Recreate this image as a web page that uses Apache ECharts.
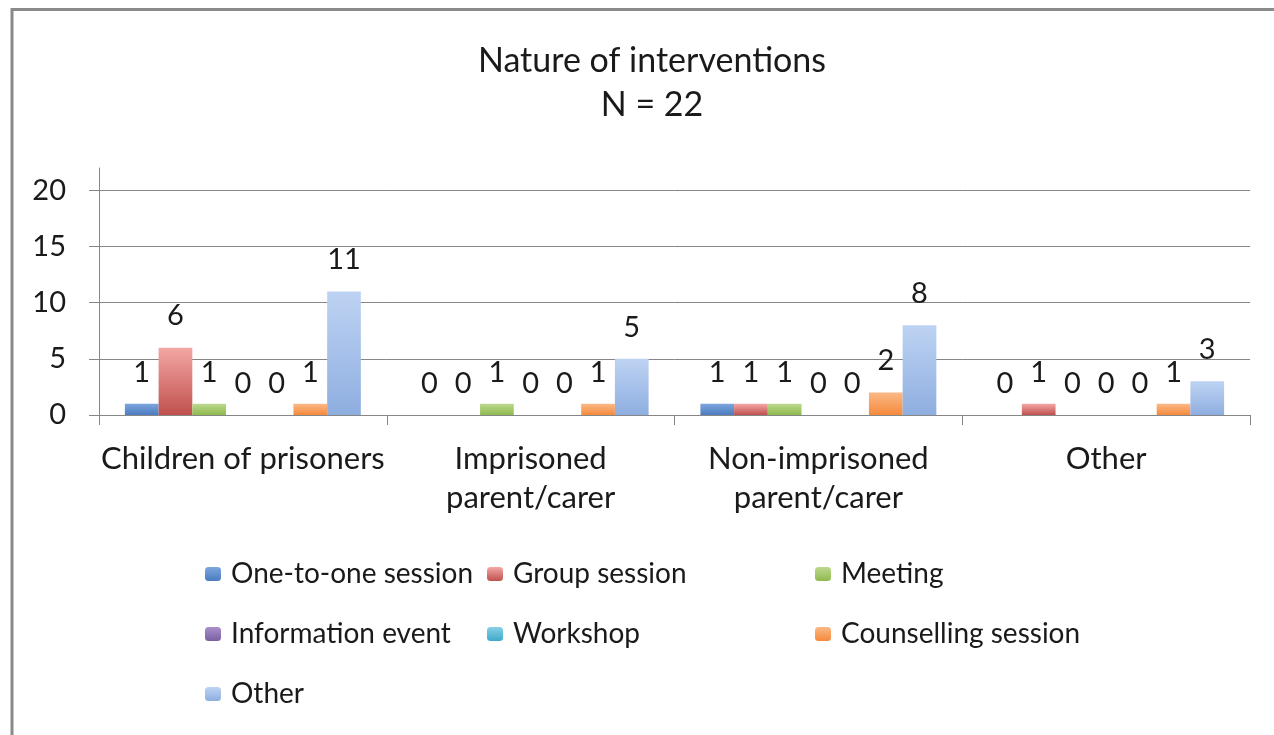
<!DOCTYPE html>
<html>
<head>
<meta charset="utf-8">
<script src="https://cdn.jsdelivr.net/npm/echarts@6/dist/echarts.min.js"></script>
<style>
html,body{margin:0;padding:0;background:#fff;}
#chart{width:1274px;height:735px;}
</style>
</head>
<body>
<div id="chart"></div>
<script>
var categories = ['Children of prisoners', 'Imprisoned\nparent/carer', 'Non-imprisoned\nparent/carer', 'Other'];
var seriesNames = ['One-to-one session', 'Group session', 'Meeting', 'Information event', 'Workshop', 'Counselling session', 'Other'];
var oneToOne = [1, 0, 1, 0];
var groupSession = [6, 0, 1, 1];
var meeting = [1, 1, 1, 0];
var infoEvent = [0, 0, 0, 0];
var workshop = [0, 0, 0, 0];
var counselling = [1, 1, 2, 1];
var otherVals = [11, 5, 8, 3];
var yTicks = [0, 5, 10, 15, 20];

var seriesValues = [oneToOne, groupSession, meeting, infoEvent, workshop, counselling, otherVals];
var baseColors = ['#4a7cc0', '#c0504d', '#8fba4e', '#7b5fa3', '#3eaacb', '#f58a3c', '#8eaee0'];
var topColors  = ['#7ea6dd', '#f3a7a5', '#bcd88e', '#a98fcb', '#86d0e6', '#fbb886', '#bed3f3'];
var FONT = 'Lato';

var chart = echarts.init(document.getElementById('chart'));
var series = seriesNames.map(function (name, i) {
  return {
    name: name,
    type: 'bar',
    data: seriesValues[i],
    barGap: '0%',
    barCategoryGap: '18%',
    itemStyle: {
      color: new echarts.graphic.LinearGradient(0, 0, 0, 1, [
        {offset: 0, color: topColors[i]},
        {offset: 1, color: baseColors[i]}
      ])
    },
    label: {
      show: true,
      position: 'top',
      distance: 17,
      fontFamily: FONT,
      fontSize: 29,
      color: '#1a1a1a'
    }
  };
});

var legendText = {fontFamily: FONT, fontSize: 28, color: '#1a1a1a', padding: [0, 0, 0, 5]};
function legendCol(left, names) {
  return {
    orient: 'vertical',
    left: left,
    top: 560,
    padding: 0,
    itemWidth: 16,
    itemHeight: 14,
    itemGap: 32,
    data: names,
    textStyle: legendText,
    selectedMode: false
  };
}

chart.setOption({
  backgroundColor: '#ffffff',
  animation: false,
  title: {
    text: 'Nature of interventions\nN = 22',
    left: 647,
    top: 34,
    textAlign: 'center',
    textStyle: {fontFamily: FONT, fontSize: 34, fontWeight: 'normal', color: '#1a1a1a', lineHeight: 44}
  },
  graphic: [{
    type: 'rect',
    shape: {x: 12, y: 9.5, width: 1300, height: 800},
    style: {fill: 'none', stroke: '#8a8a8a', lineWidth: 3},
    silent: true
  }],
  legend: [
    legendCol(205, [seriesNames[0], seriesNames[3], seriesNames[6]]),
    legendCol(487, [seriesNames[1], seriesNames[4]]),
    legendCol(815, [seriesNames[2], seriesNames[5]])
  ],
  grid: {left: 99, right: 24, top: 168, bottom: 320, containLabel: false},
  xAxis: {
    type: 'category',
    data: categories,
    axisLine: {lineStyle: {color: '#868686', width: 1}},
    axisTick: {show: true, length: 10, lineStyle: {color: '#868686'}},
    axisLabel: {fontFamily: FONT, fontSize: 31, color: '#1a1a1a', margin: 24, lineHeight: 39, interval: 0}
  },
  yAxis: {
    type: 'value',
    min: yTicks[0],
    max: 22,
    interval: 5,
    axisLine: {show: true, lineStyle: {color: '#868686', width: 1}},
    axisTick: {show: true, length: 10, lineStyle: {color: '#868686'}},
    splitLine: {show: true, showMaxLine: false, lineStyle: {color: '#868686', width: 1}},
    axisLabel: {fontFamily: FONT, fontSize: 29, color: '#1a1a1a', margin: 33, showMaxLabel: false}
  },
  series: series
});
</script>
</body>
</html>
